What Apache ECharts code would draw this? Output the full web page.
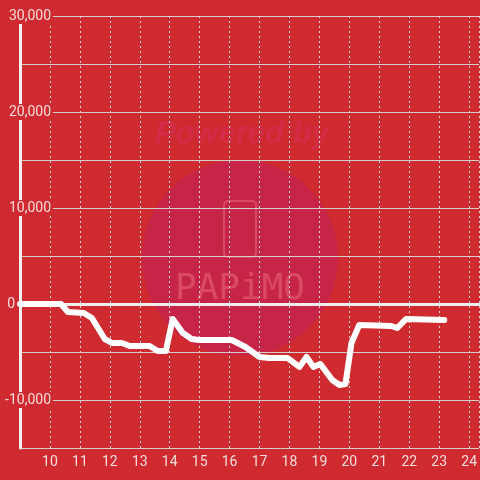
<!DOCTYPE html>
<html>
<head>
<meta charset="utf-8">
<script src="https://cdn.jsdelivr.net/npm/echarts@6/dist/echarts.min.js"></script>
<style>
  html, body { margin: 0; padding: 0; background: #ce2a2f; }
  #chart { width: 480px; height: 480px; }
</style>
</head>
<body>
<div id="chart"></div>
<script>
// hour of day (decimal) and running value
const hours = [9.0, 10.37, 10.6, 11.13, 11.4, 11.83, 12.07, 12.4, 12.67, 13.33, 13.6, 13.87,
  14.1, 14.43, 14.73, 15.0, 16.07, 16.53, 17.0, 17.33, 17.93, 18.33, 18.57, 18.8,
  19.03, 19.43, 19.67, 19.87, 20.07, 20.33, 21.4, 21.6, 21.9, 23.17];
const values = [0, 0, -830, -940, -1460, -3650, -4060, -4060, -4380, -4380, -4900, -4900,
  -1560, -3000, -3650, -3750, -3750, -4480, -5520, -5620, -5620, -6560, -5520, -6560,
  -6250, -7920, -8440, -8330, -4060, -2190, -2290, -2500, -1560, -1670];
const yLabelValues = [30000, 20000, 10000, 0, -10000];
const xLabelHours = [10, 11, 12, 13, 14, 15, 16, 17, 18, 19, 20, 21, 22, 23, 24];

const bg = '#ce2a2f';
const labelColor = '#f3dcdc';

const chart = echarts.init(document.getElementById('chart'));

chart.setOption({
  animation: false,
  backgroundColor: bg,
  textStyle: { fontFamily: 'Roboto, sans-serif' },
  grid: { left: 20, right: 0, top: 16, bottom: 32, containLabel: false },
  graphic: [
    { type: 'circle', z: -1, shape: { cx: 240, cy: 258, r: 98 }, style: { fill: 'rgba(196,36,80,0.75)' } },
    { type: 'text', z: -1, x: 242, y: 134, style: { text: 'Powered by', fill: 'rgba(214,44,78,0.8)', font: 'italic bold 31px "Liberation Sans", sans-serif', align: 'center', verticalAlign: 'middle' } },
    { type: 'rect', z: -1, shape: { x: 224, y: 201, width: 32, height: 56, r: 4 }, style: { fill: 'none', stroke: 'rgba(226,90,110,0.7)', lineWidth: 2 } },
    { type: 'text', z: -1, x: 240, y: 290, style: { text: 'PAPiMO', fill: 'rgba(226,90,110,0.7)', font: '36px "DejaVu Sans Mono", monospace', align: 'center', verticalAlign: 'middle' } }
  ],
  xAxis: [
    {
      type: 'value',
      min: 9,
      max: 9 + 460 / 30,
      interval: 1,
      axisLine: { show: false, onZero: false },
      axisTick: { show: false },
      splitLine: { show: true, lineStyle: { color: '#e2d6d6', type: [2, 3], width: 1 } },
      axisLabel: {
        color: labelColor,
        fontSize: 14,
        margin: 7,
        showMaxLabel: false,
        formatter: v => (xLabelHours.indexOf(v) >= 0 ? String(v) : '')
      }
    },
    {
      type: 'value',
      position: 'top',
      min: 9,
      max: 9 + 460 / 30,
      axisLine: { show: true, onZero: true, lineStyle: { color: '#f1eeee', width: 3 } },
      axisTick: { show: false },
      axisLabel: { show: false },
      splitLine: { show: false }
    }
  ],
  yAxis: {
    type: 'value',
    min: -15000,
    max: 30000,
    interval: 5000,
    axisLine: { show: true, lineStyle: { color: '#f1eeee', width: 3 } },
    axisTick: { show: false },
    splitLine: { show: true, lineStyle: { color: '#d6cccc', width: 1 } },
    axisLabel: {
      margin: -33,
      color: labelColor,
      fontSize: 14,
      formatter: v => {
        if (yLabelValues.indexOf(v) < 0) return '';
        if (v === 0) return '{z|0}';
        return '{b|' + v.toLocaleString('en-US') + '}';
      },
      rich: {
        b: { color: labelColor, fontSize: 14, backgroundColor: bg, padding: [1, 2, 1, 2] },
        z: { color: labelColor, fontSize: 14, padding: [0, 38, 0, 0] }
      }
    }
  },
  series: [{
    type: 'line',
    xAxisIndex: 0,
    data: hours.map((h, i) => [h, values[i]]),
    showSymbol: false,
    z: 5,
    lineStyle: { color: '#ffffff', width: 6, join: 'round', cap: 'round' }
  }]
});
</script>
</body>
</html>
